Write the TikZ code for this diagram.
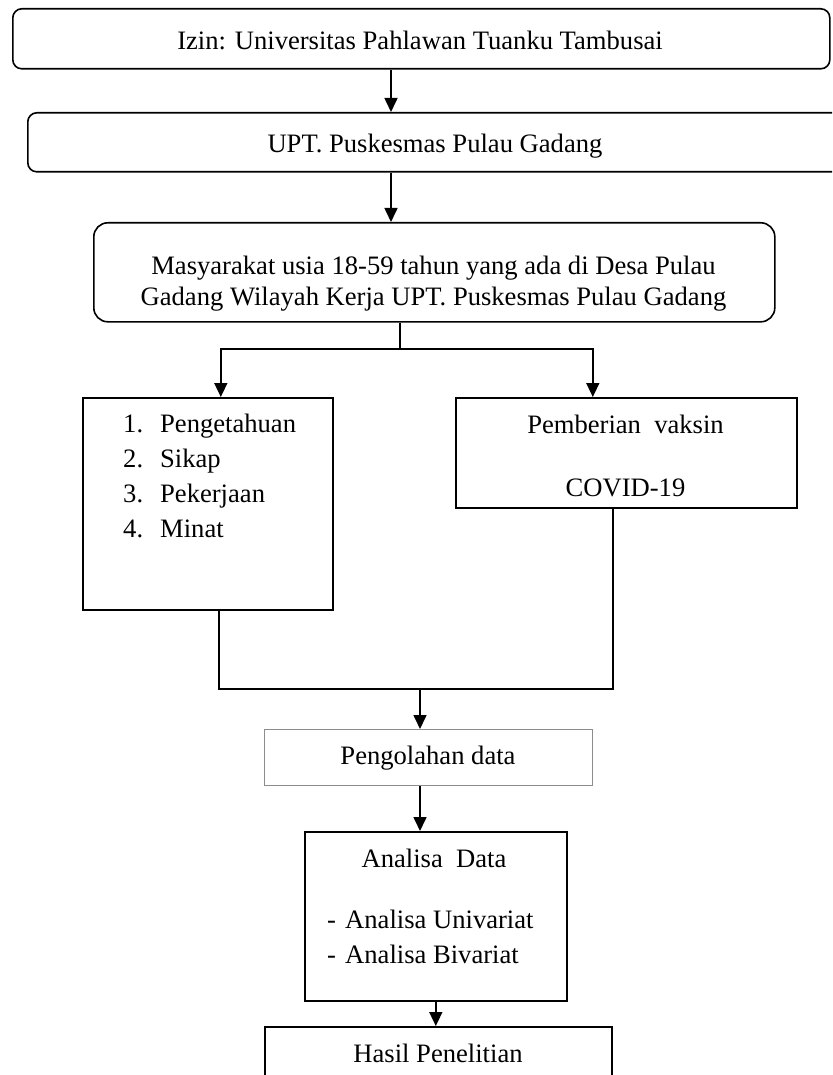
\documentclass[tikz,border=0pt]{standalone}
\usepackage{fontspec}
\setmainfont{Liberation Serif}
\usetikzlibrary{arrows.meta}
\begin{document}
\begin{tikzpicture}[x=1pt,y=-1pt,
  box/.style={draw, line width=1.6pt, inner sep=0pt, anchor=north west},
  rbox/.style={box, rounded corners=9pt},
  thinbox/.style={box, draw=black!45, line width=0.9pt},
  txt/.style={anchor=base, inner sep=0pt, font=\fontsize{26.6}{32}\selectfont},
  ltxt/.style={txt, anchor=base west},
  con/.style={line width=1.6pt},
  arr/.style={con, -{Triangle[length=14pt,width=13pt]}}]
\useasboundingbox (0,0) rectangle (832,1075);
\clip (0,0) rectangle (832,1075);

% boxes
\node[rbox, minimum width=817pt, minimum height=60pt] (izin) at (12,8) {};
\node[rbox, minimum width=841pt, minimum height=59pt] (upt) at (27,112) {};
\node[rbox, rounded corners=14pt, minimum width=681pt, minimum height=99pt] (masy) at (93,222) {};
\node[box, minimum width=250pt, minimum height=212pt] (faktor) at (82,397) {};
\node[box, minimum width=341pt, minimum height=110pt] (vaksin) at (455,397) {};
\node[thinbox, minimum width=328pt, minimum height=56pt] (olah) at (264,729) {};
\node[box, minimum width=262pt, minimum height=169pt] (analisa) at (304,831) {};
\node[box, minimum width=347pt, minimum height=80pt] (hasil) at (264,1026) {};

% texts
\node[txt] (t-izin) at (420,50) {Izin: Universitas Pahlawan Tuanku Tambusai};
\node[txt] (t-upt) at (435,153) {UPT. Puskesmas Pulau Gadang};
\node[txt] (t-masy1) at (433.5,274) {Masyarakat usia 18-59 tahun yang ada di Desa Pulau};
\node[txt] (t-masy2) at (433.5,305) {Gadang Wilayah Kerja UPT. Puskesmas Pulau Gadang};
\node[ltxt] (t-f1) at (123,432) {\makebox[37pt][l]{1.}Pengetahuan};
\node[ltxt] (t-f2) at (123,467) {\makebox[37pt][l]{2.}Sikap};
\node[ltxt] (t-f3) at (123,502) {\makebox[37pt][l]{3.}Pekerjaan};
\node[ltxt] (t-f4) at (123,537) {\makebox[37pt][l]{4.}Minat};
\node[txt] (t-v1) at (625.5,433) {Pemberian\ \ vaksin};
\node[txt] (t-v2) at (625.5,496) {COVID-19};
\node[txt] (t-olah) at (428,764) {Pengolahan data};
\node[txt] (t-an) at (434,867) {Analisa\ \ Data};
\node[ltxt] (t-an1) at (327,928) {\makebox[18pt][l]{-}Analisa Univariat};
\node[ltxt] (t-an2) at (327,963) {\makebox[18pt][l]{-}Analisa Bivariat};
\node[txt] (t-hasil) at (438,1062) {Hasil Penelitian};

% connectors
\coordinate (spine) at (391,0);
\coordinate (stem) at (400,349);
\coordinate (merge) at (420,689);
\draw[arr] (izin.south -| spine) -- (upt.north -| spine);
\draw[arr] (upt.south -| spine) -- (masy.north -| spine);
\draw[con] (masy.south -| stem) -- (stem);
\draw[arr] (stem) -| ([xshift=13pt]faktor.north);
\draw[arr] (stem) -| ([xshift=-33.5pt]vaksin.north);
\draw[con] ([xshift=11pt]faktor.south) |- (merge) -| ([xshift=-13.5pt]vaksin.south);
\draw[arr] (merge) -- (olah.north -| merge);
\draw[arr] (olah.south -| merge) -- (analisa.north -| merge);
\draw[arr] (analisa.south) -- (hasil.north -| analisa.south);
\end{tikzpicture}
\end{document}
